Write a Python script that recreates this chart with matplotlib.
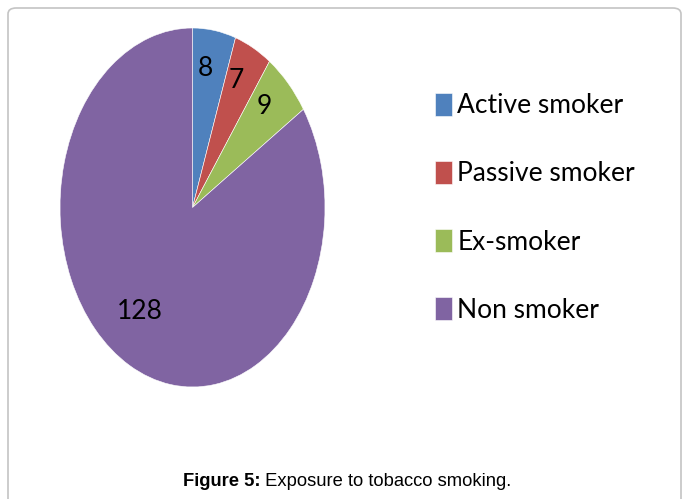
import matplotlib
matplotlib.use('Agg')
import matplotlib.pyplot as plt
from matplotlib.patches import FancyBboxPatch
import numpy as np

categories = ["Active smoker", "Passive smoker", "Ex-smoker", "Non smoker"]
counts = [8, 7, 9, 128]
colors = ["#4F81BD", "#C0504D", "#9BBB59", "#8064A2"]
caption_bold = "Figure 5:"
caption_rest = " Exposure to tobacco smoking."

fig = plt.figure(figsize=(6.83, 4.99), dpi=100)

# rounded frame round the figure panel
frame = FancyBboxPatch((8 / 683, -0.2), 673 / 683, 1.2 - 8 / 499,
                       boxstyle="round,pad=0,rounding_size=0.012",
                       transform=fig.transFigure, facecolor="none",
                       edgecolor="#c4c4c4", linewidth=1.2)
fig.patches.append(frame)

# pie is stretched into an ellipse (aspect auto)
ax = fig.add_axes([60 / 683, 112 / 499, 265 / 683, 359 / 499])
wedges, texts, autotexts = ax.pie(counts, colors=colors, startangle=90,
                                  counterclock=False, radius=1,
                                  autopct=lambda p: "%d" % round(p * sum(counts) / 100),
                                  wedgeprops=dict(edgecolor="white", linewidth=0.4),
                                  textprops=dict(fontsize=19, family="Lato", color="black"))
ax.set_aspect('auto')
ax.set_xlim(-1, 1)
ax.set_ylim(-1, 1)

# label placement: small slices near the rim, big one closer in
for w, t in zip(wedges, autotexts):
    if w.theta2 - w.theta1 > 90:
        ang, rr = (w.theta1 + w.theta2) / 2 - 6, 0.70
    else:
        ang, rr = (w.theta1 + w.theta2) / 2 + 2.3, 0.78
    a = np.deg2rad(ang)
    t.set_position((rr * np.cos(a), rr * np.sin(a)))

leg = fig.legend(wedges, categories, loc="upper left",
                 bbox_to_anchor=(411 / 683, 1 - 69 / 499),
                 frameon=False, prop=dict(family="Lato", size=19),
                 handlelength=0.65, handleheight=0.95, handletextpad=0.2,
                 labelspacing=1.62)

# caption: bold "Figure 5:" then regular text, centred as a whole
fig.canvas.draw()
r = fig.canvas.get_renderer()
t1 = fig.text(0, 1 - 482 / 499, caption_bold, fontsize=13.2, fontweight="bold",
              family="Liberation Sans", va="center")
t2 = fig.text(0, 1 - 482 / 499, caption_rest, fontsize=13.2,
              family="Liberation Sans", va="center")
w1 = t1.get_window_extent(r).width / fig.bbox.width
w2 = t2.get_window_extent(r).width / fig.bbox.width
x0 = 347 / 683 - (w1 + w2) / 2
t1.set_x(x0)
t2.set_x(x0 + w1)

plt.savefig("out.png", dpi=100)
